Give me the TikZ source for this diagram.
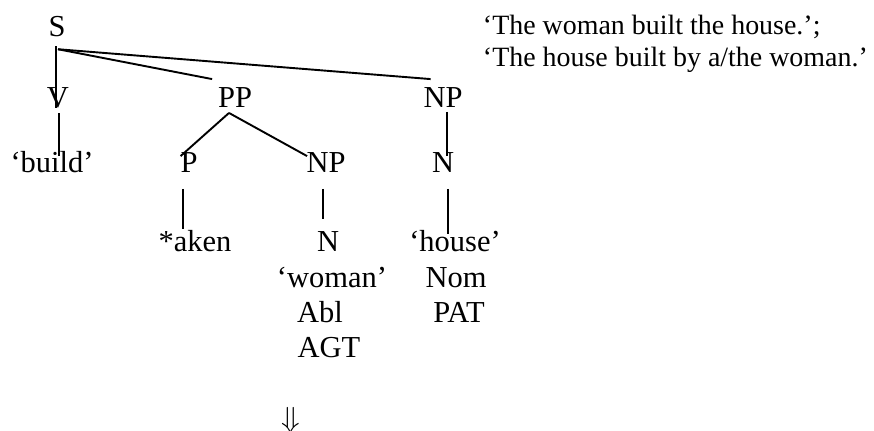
\documentclass[tikz,border=0pt]{standalone}
\usepackage{fontspec}
\setmainfont{Liberation Serif}
\usepackage{tikz}

\begin{document}
\begin{tikzpicture}[x=0.3937pt, y=-0.3937pt, line width=0.75pt,
		every node/.style={inner sep=0pt, anchor=base, font=\fontsize{12}{14}\selectfont},
		gloss/.style={anchor=base west, font=\fontsize{11}{13}\selectfont}]
		\useasboundingbox (0,0) rectangle (874,431);
		% tree
		\node (S) at (57,37) {S};
		\node (V) at (58,108) {V};
		\node (PP) at (235,108) {PP};
		\node (NP1) at (443,108) {NP};
		\node (build) at (52,173) {‘build’};
		\node (P) at (189,173) {P};
		\node (NP2) at (326,173) {NP};
		\node (N1) at (443,173) {N};
		\node (aken) at (195,252) {*aken};
		\node (N2) at (328,252) {N};
		\node (house) at (455,252) {‘house’};
		\node (woman) at (332,288) {‘woman’};
		\node (Abl) at (320,323) {Abl};
		\node (AGT) at (329,358) {AGT};
		\node (Nom) at (456,288) {Nom};
		\node (PAT) at (459,323) {PAT};
		% glosses
		\node[gloss] (gl1) at (482,35) {‘The woman built the house.’;};
		\node[gloss] (gl2) at (482,67) {‘The house built by a/the woman.’};
		\node (down) at (291,428) {$\Downarrow$};
		% branches
		\draw ([shift={(-1,8)}]S.south) -- ([shift={(-2,0)}]V.base);
		\draw ([shift={(1,11)}]S.south) -- ([shift={(-5,-8)}]PP.north west);
		\draw ([shift={(1,11)}]S.south) -- ([shift={(8,-8)}]NP1.north west);
		\draw ([shift={(1,4)}]V.south) -- ([shift={(7,5)}]build.north);
		\draw ([shift={(-6,4)}]PP.south) -- ([shift={(1,4)}]P.north west);
		\draw ([shift={(-6,4)}]PP.south) -- ([shift={(1.5,4)}]NP2.north west);
		\draw ([shift={(4,3)}]NP1.south) -- ([shift={(4,4)}]N1.north);
		\draw ([shift={(-6,15)}]P.south) -- ([shift={(-12,-1)}]aken.north);
		\draw ([shift={(-3,15)}]NP2.south) -- ([shift={(-5,-12)}]N2.north);
		\draw ([shift={(5,15)}]N1.south) -- ([shift={(-7,4)}]house.north);
	\end{tikzpicture}
\end{document}
